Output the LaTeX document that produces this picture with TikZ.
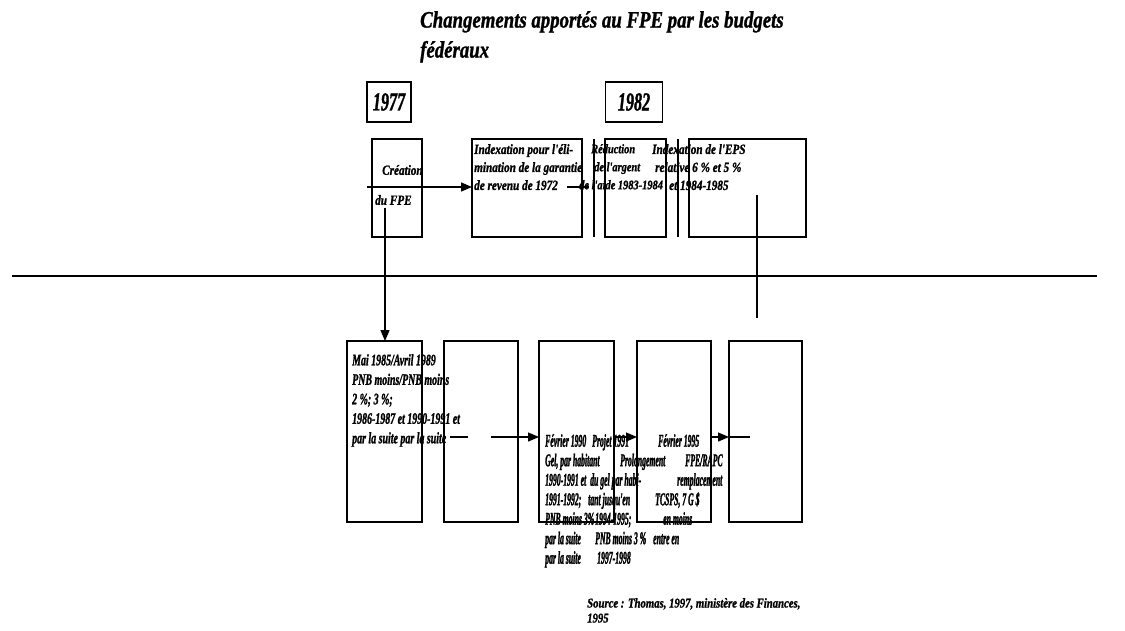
\documentclass[tikz,border=0pt]{standalone}
\usepackage{fontspec}
\setmainfont{Liberation Serif}[FakeStretch=0.62, FakeBold=1.2]
\newfontfamily\widef{Liberation Serif}[FakeStretch=0.8, FakeBold=1.2]
\newfontfamily\narrowf{Liberation Serif}[FakeStretch=0.43, FakeBold=1.4]
\usetikzlibrary{arrows.meta, positioning}

\begin{document}
\begin{tikzpicture}[x=1pt, y=-1pt,
    bx/.style={draw, line width=1.3pt, inner sep=0pt, outer sep=0pt},
    yr/.style={bx, minimum height=40pt, font=\fontsize{26}{28}\selectfont\bfseries\itshape},
    tbox/.style={bx, minimum height=98pt},
    bbox/.style={bx, minimum height=181pt, minimum width=74pt},
    txt/.style={align=left, inner sep=0pt, anchor=north west,
                font=\fontsize{16}{19.5}\selectfont\bfseries\itshape},
    ntxt/.style={txt, font=\narrowf\fontsize{18}{19.5}\selectfont\bfseries\itshape},
    stxt/.style={txt, font=\widef\fontsize{14}{18}\selectfont\bfseries\itshape},
    ttl/.style={txt, font=\widef\fontsize{23.5}{30}\selectfont\bfseries\itshape},
    src/.style={txt, font=\widef\fontsize{13.4}{15}\selectfont\bfseries\itshape},
    ar/.style={-{Triangle[length=11pt,width=9pt]}, line width=1.3pt},
    ln/.style={line width=1.3pt},
]
\useasboundingbox (0,0) rectangle (1125,630);

% === TITLE ===
\node[ttl] (title) at (420,11) {Changements apportés au FPE par les budgets\\fédéraux};

% === TOP ROW: years and boxes ===
\node[yr, minimum width=44pt] (y77) at (389,102) {1977};
\node[yr, minimum width=57pt] (y82) at (634,102) {1982};

\node[tbox, minimum width=50pt]  (crea) at (397,188) {};
\node[tbox, minimum width=110pt] (idx)  at (527,188) {};
\node[tbox, minimum width=61pt]  (red)  at (635.5,188) {};
\node[tbox, minimum width=117pt] (lim)  at (747.5,188) {};

\draw[ln] ([xshift=12pt]idx.north east) -- ([xshift=12pt]idx.south east);
\draw[ln] ([xshift=12pt]red.north east) -- ([xshift=12pt]red.south east);

\node[stxt, anchor=west] (crea1) at (382,170) {Création};
\node[stxt, anchor=west] (crea2) at (375,200) {du FPE};
\node[stxt] (idxt) at (474,144) {Indexation pour l'éli-\\mination de la garantie\\de revenu de 1972};
\node[stxt, font=\widef\fontsize{13}{18}\selectfont\bfseries\itshape] (redt) at (579,144)
    {\hspace*{12pt}Réduction\\\hspace*{15pt}de l'argent\\de l'aide 1983-1984};
\node[stxt] (limt) at (652,144) {Indexation de l'EPS\\\hspace*{3pt}relative 6 \% et 5 \%\\\hspace*{17pt}et 1984-1985};

% top connectors
\coordinate (s0) at (367,187);
\draw[ar] (s0) -- (s0 -| idx.west);
\coordinate (s1) at (567,187);
\draw[ln] (s1) -- ++(22,0);

% === SEPARATOR ===
\coordinate (hl0) at (12,276);
\coordinate (hl1) at (1097,276);
\draw[ln] (hl0) -- (hl1);

\coordinate (v1) at (757,195);
\draw[ln] (v1) -- ++(0,123);

% === BOTTOM ROW ===
\node[bbox, minimum width=75pt] (b1) at (384.5,431.5) {};
\node[bbox, right=22pt of b1] (b2) {};
\node[bbox, minimum width=75pt, right=21pt of b2] (b3) {};
\node[bbox, right=23pt of b3] (b4) {};
\node[bbox, minimum width=73pt, right=18pt of b4] (b5) {};

\coordinate (v0) at (385,208);
\draw[ar] (v0) -- (v0 |- b1.north);

\node[txt] (b1t) at (352,354) {Mai 1985/Avril 1989\\PNB moins/PNB moins\\2 \%; 3 \%;\\1986-1987 et 1990-1991 et\\par la suite par la suite};

\node[ntxt] (c1) at (545,434) {Février 1990\\Gel, par habitant\\1990-1991 et\\1991-1992;\\PNB moins 3\%\\par la suite\\par la suite};
\node[ntxt] (c2) at (588,434) {\hspace*{4pt}Projet 1991\\\hspace*{32pt}Prolongement\\\hspace*{2pt}du gel par habi-\\tant jusqu'en\\\hspace*{7pt}1994-1995;\\\hspace*{7pt}PNB moins 3 \%\\\hspace*{9pt}1997-1998};
\node[ntxt] (c3) at (653,434) {\hspace*{5pt}Février 1995\\\hspace*{32pt}FPE/RAPC\\\hspace*{24pt}remplacement\\\hspace*{2pt}TCSPS, 7 G \$\\\hspace*{10pt}en moins\\entre en};

% bottom connectors
\coordinate (ay) at (0,437);
\coordinate (s2) at (450,437);
\draw[ln] (s2) -- ++(18,0);
\coordinate (s3) at (491,437);
\draw[ar] (s3) -- (b3.west |- ay);
\draw[ar] (b3.east |- ay) -- (b4.west |- ay);
\draw[ar] (b4.east |- ay) -- (b5.west |- ay);
\draw[ln] (b5.west |- ay) -- ++(21,0);

% === SOURCE ===
\node[src] (source) at (587,598) {Source : Thomas, 1997, ministère des Finances,\\1995};

\end{tikzpicture}
\end{document}
